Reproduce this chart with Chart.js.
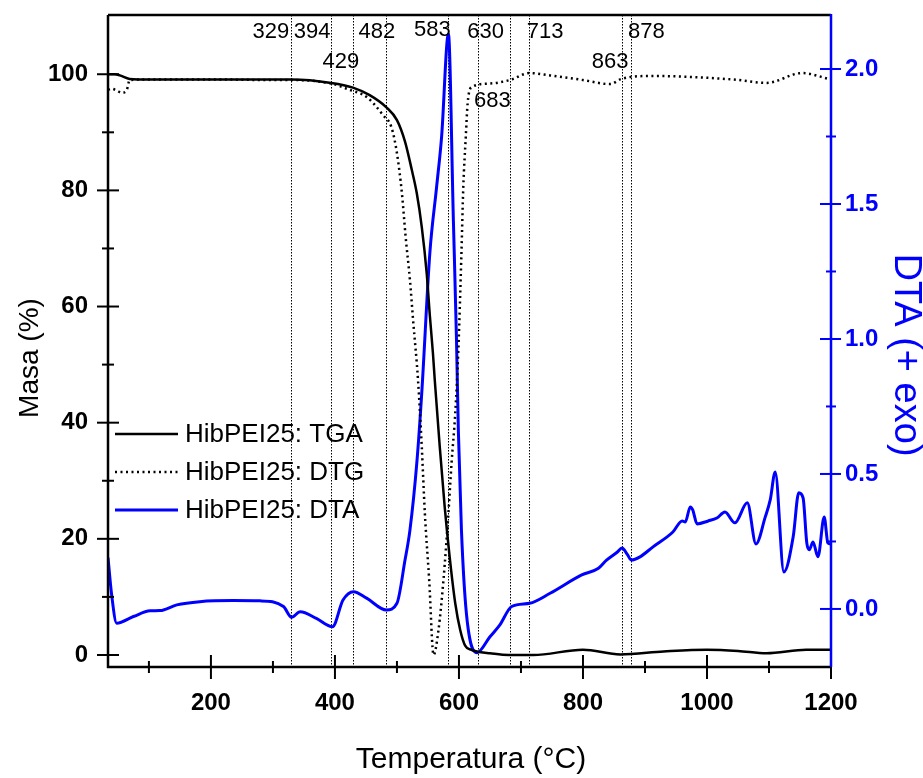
<!DOCTYPE html>
<html>
<head>
<meta charset="utf-8">
<script src="https://cdn.jsdelivr.net/npm/chart.js@4.4.1/dist/chart.umd.min.js"></script>
<style>
  html, body { margin: 0; padding: 0; background: #fff; }
  #wrap { width: 923px; height: 778px; }
</style>
</head>
<body>
<div id="wrap"><canvas id="tga"></canvas></div>
<script>
// Values (temperature in °C)
const tgaTemp = [34, 45, 53, 69, 100, 200, 300, 330, 394, 429, 456, 483, 500, 513, 524, 532, 540, 548, 553, 558, 561, 569, 577, 585, 594, 602, 610, 620, 629, 650, 680, 720, 800, 860, 930, 1000, 1050, 1096, 1160, 1200];
const tgaMass = [100, 100, 99.8, 99.2, 99.1, 99.1, 99.1, 99.1, 98.5, 97.7, 96.4, 94.3, 92.1, 88.4, 83.5, 79.5, 73.7, 65.7, 58.5, 52, 47.3, 35.9, 25.5, 16.9, 8.9, 4.3, 1.6, 0.9, 0.6, 0.3, 0, 0, 0.9, 0.1, 0.6, 0.9, 0.7, 0.3, 0.9, 0.9];

const dtgTemp = [34, 40, 48, 56, 64, 69, 102, 200, 300, 329, 394, 424, 451, 478, 491, 500, 508, 514, 521, 526, 534, 540, 545, 552, 559, 567, 575, 583, 588, 594, 599, 604, 607, 611, 614, 621, 650, 682, 714, 747, 800, 844, 862, 908, 1042, 1096, 1153, 1200];
const dtgValue = [97.3, 97.5, 97.2, 96.8, 97.2, 99, 99.1, 99.1, 99.0, 99.0, 98.4, 97.3, 96.1, 92.9, 90.9, 86.4, 79.5, 72, 64.5, 57.7, 47.3, 35.9, 24.4, 12.9, 0, 4.3, 12.9, 24.4, 33, 41.6, 52.5, 69.2, 80.6, 89.2, 95, 97.8, 98.4, 99, 100.2, 99.8, 99, 98.3, 99.2, 99.7, 99.1, 98.5, 100.2, 99.1];

const dtaTemp = [34, 40, 48, 75, 102, 118, 145, 182, 236, 279, 317, 330, 344, 370, 396, 413, 430, 451, 483, 500, 513, 521, 532, 540, 553, 564, 572, 583, 591, 596, 599, 604, 612, 629, 650, 666, 685, 714, 747, 798, 825, 838, 855, 863, 872, 878, 892, 913, 945, 960, 965, 973, 977, 984, 1002, 1016, 1029, 1045, 1065, 1079, 1094, 1102, 1110, 1124, 1139, 1148, 1155, 1161, 1165, 1171, 1179, 1189, 1195, 1200];
const dtaValue = [0.19, 0.05, -0.053, -0.028, -0.007, -0.006, 0.015, 0.027, 0.031, 0.03, 0.009, -0.031, -0.01, -0.035, -0.066, 0.033, 0.064, 0.04, -0.004, 0.021, 0.181, 0.293, 0.54, 0.80, 1.317, 1.564, 1.749, 2.13, 1.44, 1.0, 0.663, 0.293, -0.016, -0.162, -0.103, -0.059, 0.009, 0.021, 0.058, 0.126, 0.151, 0.181, 0.21, 0.226, 0.2, 0.181, 0.193, 0.23, 0.285, 0.326, 0.322, 0.378, 0.367, 0.315, 0.326, 0.337, 0.359, 0.319, 0.393, 0.241, 0.341, 0.404, 0.507, 0.137, 0.267, 0.43, 0.411, 0.244, 0.219, 0.248, 0.193, 0.341, 0.244, 0.24];

const peakTemps = [329, 394, 429, 482, 583, 630, 683, 713, 863, 878];
const seriesNames = ['HibPEI25: TGA', 'HibPEI25: DTG', 'HibPEI25: DTA'];

const xTicks = [200, 400, 600, 800, 1000, 1200];
const xMinor = [100, 300, 500, 700, 900, 1100];
const massTicks = [0, 20, 40, 60, 80, 100];
const massMinor = [10, 30, 50, 70, 90];
const dtaTicks = [0, 0.5, 1, 1.5, 2];
const dtaMinor = [0.25, 0.75, 1.25, 1.75];

const FONT = '"Liberation Sans", Arial, sans-serif';
const BLUE = '#0000ff';

// where each peak label sits relative to its line
const peakLabelPos = {
  329: { dx: -20, y: 32 }, 394: { dx: -19, y: 32 }, 429: { dx: -12, y: 62 },
  482: { dx: -9, y: 32 }, 583: { dx: -16, y: 30 }, 630: { dx: 8, y: 32 },
  683: { dx: -18, y: 101 }, 713: { dx: 16, y: 32 }, 863: { dx: -12, y: 62 },
  878: { dx: 15, y: 32 }
};

function toPoints(xs, ys) {
  return xs.map((t, i) => ({ x: t, y: ys[i] }));
}

function line(ctx, x1, y1, x2, y2) {
  ctx.beginPath();
  ctx.moveTo(x1, y1);
  ctx.lineTo(x2, y2);
  ctx.stroke();
}

// keep the plot box where the original figure has it
function fixVertical(width) {
  return s => { s.width = width; s.paddingTop = 0; s.paddingBottom = 0; };
}

const decorations = {
  id: 'decorations',
  beforeDatasetsDraw(chart) {
    const { ctx, chartArea: a, scales: { x } } = chart;
    ctx.save();
    ctx.strokeStyle = '#000';
    ctx.lineWidth = 1;
    ctx.setLineDash([1.5, 1.5]);
    peakTemps.forEach(t => {
      const px = Math.round(x.getPixelForValue(t)) + 0.5;
      line(ctx, px, a.top, px, a.bottom);
    });
    ctx.restore();
  },
  afterDraw(chart) {
    const { ctx, chartArea: a, scales: { x, y, y2 } } = chart;
    ctx.save();

    // frame
    ctx.lineWidth = 2.5;
    ctx.strokeStyle = '#000';
    line(ctx, a.left, a.top, a.right, a.top);
    line(ctx, a.left, a.top, a.left, a.bottom + 1);
    line(ctx, a.left - 1, a.bottom, a.right, a.bottom);

    // x ticks
    ctx.lineWidth = 2;
    xTicks.forEach(v => { const p = x.getPixelForValue(v); line(ctx, p, a.bottom - 12, p, a.bottom + 12); });
    xMinor.forEach(v => { const p = x.getPixelForValue(v); line(ctx, p, a.bottom - 6, p, a.bottom + 6); });

    // left ticks
    massTicks.forEach(v => { const p = y.getPixelForValue(v); line(ctx, a.left - 11, p, a.left + 11, p); });
    massMinor.forEach(v => { const p = y.getPixelForValue(v); line(ctx, a.left - 6, p, a.left + 6, p); });

    // right axis (blue)
    ctx.strokeStyle = BLUE;
    ctx.lineWidth = 2.5;
    line(ctx, a.right, a.top - 1, a.right, a.bottom);
    ctx.lineWidth = 2;
    dtaTicks.forEach(v => { const p = y2.getPixelForValue(v); line(ctx, a.right - 11, p, a.right + 10, p); });
    dtaMinor.forEach(v => { const p = y2.getPixelForValue(v); line(ctx, a.right - 5, p, a.right + 5, p); });
    ctx.strokeStyle = '#000';
    line(ctx, a.right, a.bottom, a.right, a.bottom + 12);

    // peak labels
    ctx.fillStyle = '#000';
    ctx.font = '22px ' + FONT;
    ctx.textAlign = 'center';
    ctx.textBaseline = 'middle';
    peakTemps.forEach(t => {
      const pos = peakLabelPos[t];
      ctx.fillText(String(t), x.getPixelForValue(t) + pos.dx, pos.y);
    });

    // legend inside the plot
    const rows = [434, 472, 510];
    ctx.font = '26px ' + FONT;
    ctx.textAlign = 'left';
    chart.data.datasets.forEach((ds, i) => {
      ctx.strokeStyle = ds.borderColor;
      ctx.lineWidth = ds.borderWidth;
      ctx.setLineDash(ds.borderDash || []);
      line(ctx, 115, rows[i], 178, rows[i]);
      ctx.setLineDash([]);
      ctx.fillStyle = '#000';
      ctx.fillText(ds.label, 185, rows[i] + 1);
    });

    // axis titles
    ctx.fillStyle = '#000';
    ctx.textAlign = 'center';
    ctx.font = '30px ' + FONT;
    ctx.fillText('Temperatura (°C)', 471, 760);

    ctx.save();
    ctx.translate(30, 358);
    ctx.rotate(-Math.PI / 2);
    ctx.font = '28px ' + FONT;
    ctx.fillText('Masa (%)', 0, 0);
    ctx.restore();

    ctx.save();
    ctx.translate(905, 355);
    ctx.rotate(Math.PI / 2);
    ctx.fillStyle = BLUE;
    ctx.font = '38px ' + FONT;
    ctx.fillText('DTA (+ exo)', 0, 0);
    ctx.restore();

    ctx.restore();
  }
};

const tickFont = { family: FONT, size: 24, weight: 'bold' };

new Chart(document.getElementById('tga'), {
  type: 'line',
  data: {
    datasets: [
      {
        label: seriesNames[0],
        data: toPoints(tgaTemp, tgaMass),
        yAxisID: 'y',
        borderColor: '#000',
        borderWidth: 2.5,
        pointRadius: 0,
        cubicInterpolationMode: 'monotone'
      },
      {
        label: seriesNames[1],
        data: toPoints(dtgTemp, dtgValue),
        yAxisID: 'y',
        borderColor: '#000',
        borderWidth: 2.5,
        borderDash: [2, 3.5],
        pointRadius: 0,
        cubicInterpolationMode: 'monotone'
      },
      {
        label: seriesNames[2],
        data: toPoints(dtaTemp, dtaValue),
        yAxisID: 'y2',
        borderColor: BLUE,
        borderWidth: 3,
        pointRadius: 0,
        cubicInterpolationMode: 'monotone'
      }
    ]
  },
  options: {
    responsive: true,
    maintainAspectRatio: false,
    animation: false,
    layout: { padding: { top: 15, left: 0, right: 0, bottom: 0 } },
    plugins: { legend: { display: false }, tooltip: { enabled: false } },
    scales: {
      x: {
        type: 'linear',
        min: 34,
        max: 1200,
        afterBuildTicks: s => { s.ticks = xTicks.map(v => ({ value: v })); },
        afterFit: s => { s.height = 111; s.paddingLeft = 0; s.paddingRight = 0; },
        grid: { display: false, drawTicks: false },
        border: { display: false },
        ticks: { padding: 22, font: tickFont, color: '#000', maxRotation: 0, autoSkip: false, callback: v => String(v) }
      },
      y: {
        position: 'left',
        min: -2.07,
        max: 110.2,
        afterBuildTicks: s => { s.ticks = massTicks.map(v => ({ value: v })); },
        afterFit: fixVertical(108),
        grid: { display: false, drawTicks: false },
        border: { display: false },
        ticks: { padding: 20, font: tickFont, color: '#000', autoSkip: false }
      },
      y2: {
        position: 'right',
        min: -0.215,
        max: 2.2,
        afterBuildTicks: s => { s.ticks = dtaTicks.map(v => ({ value: v })); },
        afterFit: fixVertical(92),
        grid: { display: false, drawTicks: false },
        border: { display: false },
        ticks: { padding: 14, font: tickFont, color: BLUE, autoSkip: false, callback: v => v.toFixed(1) }
      }
    }
  },
  plugins: [decorations]
});
</script>
</body>
</html>
